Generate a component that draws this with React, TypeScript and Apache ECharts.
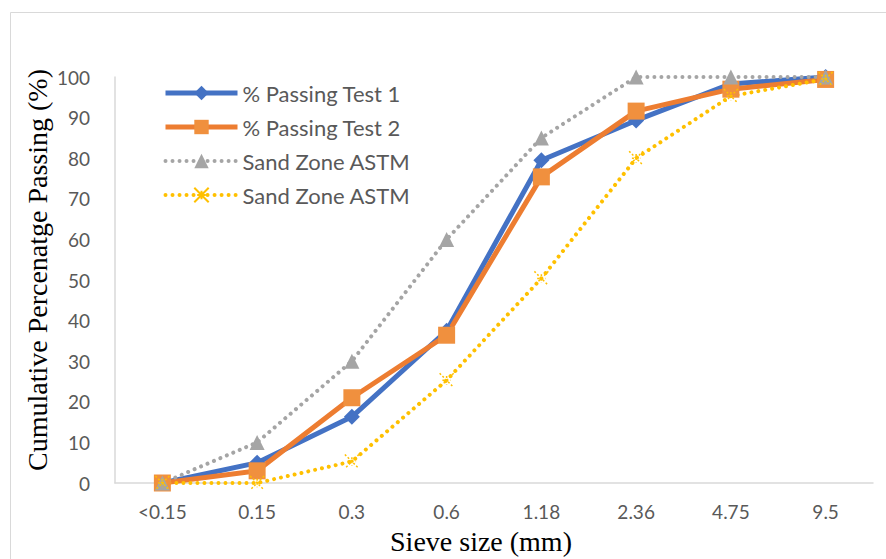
import React, { useEffect, useRef } from "react";
import * as echarts from "echarts";

const categories = ["<0.15", "0.15", "0.3", "0.6", "1.18", "2.36", "4.75", "9.5"];
const passingTest1 = [0, 5, 16.3, 37.5, 79.5, 89.3, 98.3, 100];
const passingTest2 = [0, 3, 21, 36.4, 75.4, 91.6, 97, 99.4];
const sandZoneUpper = [0, 10, 30, 60, 85, 100, 100, 100];
const sandZoneLower = [0, 0, 5.3, 25.3, 50.4, 80, 95.3, 99.5];
const seriesNames = ["% Passing Test 1", "% Passing Test 2", "Sand Zone ASTM", "Sand Zone ASTM "];
const yTitle = "Cumulative Percenatge Passing (%)";
const xTitle = "Sieve size (mm)";

const TICK_FONT = "Lato";
const SERIF = "'Liberation Serif', 'Times New Roman', serif";

export default function App() {
  const ref = useRef<HTMLDivElement>(null);
  useEffect(() => {
    if (!ref.current) return;
    const chart = echarts.init(ref.current, undefined, { renderer: "svg" });
    const dotted = [0.01, 7];
    chart.setOption({
      animation: false,
      backgroundColor: "#ffffff",
      grid: { left: 115, right: 13, top: 77, bottom: 76, containLabel: false },
      legend: {
        orient: "vertical",
        left: 158,
        top: 77,
        itemWidth: 72,
        itemHeight: 18,
        itemGap: 12,
        lineStyle: { width: "inherit", type: "inherit" },
        textStyle: { fontFamily: TICK_FONT, fontSize: 22, color: "#595959" },
        data: seriesNames,
      },
      xAxis: {
        type: "category",
        data: categories,
        boundaryGap: true,
        axisLine: { show: true, lineStyle: { color: "#d9d9d9", width: 1.5 } },
        axisTick: { show: false },
        axisLabel: { fontFamily: TICK_FONT, fontSize: 19, color: "#595959", margin: 19 },
        splitLine: { show: false },
      },
      yAxis: {
        type: "value",
        min: 0,
        max: 100,
        interval: 10,
        axisLine: { show: true, lineStyle: { color: "#d9d9d9", width: 1.5 } },
        axisTick: { show: false },
        axisLabel: { fontFamily: TICK_FONT, fontSize: 19, color: "#595959", margin: 25 },
        splitLine: { show: false },
      },
      graphic: [
        {
          type: "rect",
          shape: { x: 10.5, y: 12.5, width: 1000, height: 1000 },
          style: { fill: "none", stroke: "#d9d9d9", lineWidth: 1 },
          silent: true,
          z: -10,
        },
        {
          type: "text",
          x: 37,
          y: 270,
          rotation: Math.PI / 2,
          style: {
            text: yTitle,
            font: `28px ${SERIF}`,
            fill: "#000000",
            textAlign: "center",
            textVerticalAlign: "middle",
          },
        },
        {
          type: "text",
          x: 481,
          y: 541,
          style: {
            text: xTitle,
            font: `28px ${SERIF}`,
            fill: "#000000",
            textAlign: "center",
            textVerticalAlign: "middle",
          },
        },
      ],
      series: [
        {
          name: seriesNames[0],
          type: "line",
          data: passingTest1,
          symbol: "diamond",
          symbolSize: 16,
          lineStyle: { color: "#4472C4", width: 5 },
          itemStyle: { color: "#4472C4" },
        },
        {
          name: seriesNames[1],
          type: "line",
          data: passingTest2,
          symbol: "rect",
          symbolSize: 17,
          lineStyle: { color: "#ED7D31", width: 5 },
          itemStyle: { color: "#F0903E" },
        },
        {
          name: seriesNames[2],
          type: "line",
          data: sandZoneUpper,
          symbol: "triangle",
          symbolSize: 15,
          lineStyle: { color: "#A5A5A5", width: 4, type: dotted, cap: "round" },
          itemStyle: { color: "#A5A5A5" },
        },
        {
          name: seriesNames[3],
          type: "line",
          data: sandZoneLower,
          symbol: "path://M0,0L10,10M10,0L0,10M5,2L5,8M2,5L8,5",
          symbolSize: 14,
          lineStyle: { color: "#FFC000", width: 4, type: dotted, cap: "round" },
          itemStyle: { color: "#FFC000", borderColor: "#FFC000", borderWidth: 1.5, borderType: [2, 2] },
        },
      ],
    });
    return () => chart.dispose();
  }, []);
  return (
    <div
      ref={ref}
      style={{ position: "absolute", left: 0, top: 0, width: 886, height: 559 }}
    />
  );
}
